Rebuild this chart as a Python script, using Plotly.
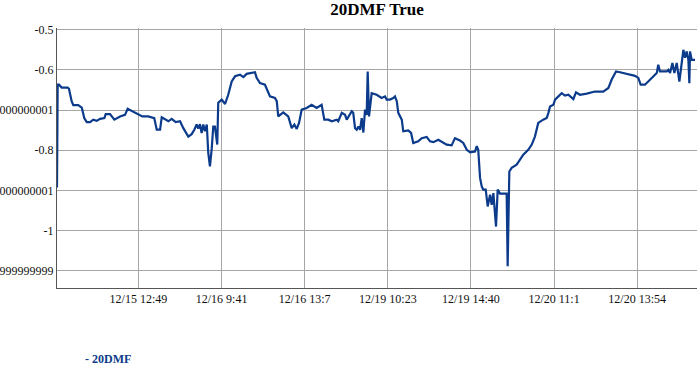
import plotly.graph_objects as go

# series position (sample index along the category axis) and 20DMF values
x_idx = [0, 0.4, 1.2, 2.8, 6.4, 7.2, 8.8, 9.8, 12.8, 14.9, 16.4, 17.9, 19.9, 21.8, 23.9, 25.9, 28.5, 29.3, 31.9, 34.5,
         37.9, 40.9, 42.5, 44.9, 47.9, 51.3, 54.9, 58.5, 60.0, 62.0, 63.0, 65.0, 67.0, 69.0, 71.4, 74.0, 76.0, 79.0, 81.0, 82.6,
         84.0, 85.0, 86.0, 87.0, 88.0, 89.0, 90.1, 91.0, 92.0, 93.1, 94.0, 95.0, 96.4, 97.0, 99.1, 101.1, 103.0, 105.1, 107.1, 110.1,
         112.1, 114.1, 117.1, 119.1, 120.1, 122.1, 125.1, 128.1, 131.1, 132.2, 133.1, 136.1, 139.1, 141.2, 142.8, 144.2, 145.6, 147.2, 150.2, 153.2,
         156.2, 159.2, 160.8, 163.2, 165.3, 168.3, 169.2, 171.3, 173.3, 174.3, 177.3, 178.2, 179.3, 180.3, 181.3, 182.3, 183.3, 184.3, 185.3, 186.3,
         186.9, 187.7, 189.3, 192.3, 195.3, 197.3, 198.3, 200.3, 202.3, 203.3, 204.4, 205.3, 207.4, 208.3, 211.3, 213.0, 214.3, 217.3, 219.4, 222.4,
         224.4, 226.4, 229.4, 231.4, 234.4, 237.4, 239.4, 242.4, 244.4, 246.5, 248.5, 251.5, 252.5, 253.4, 254.5, 255.5, 256.4, 257.9, 259.1, 260.5,
         261.5, 262.5, 263.5, 264.1, 265.1, 266.5, 270.5, 271.1, 272.1, 273.5, 276.5, 278.5, 280.5, 283.5, 285.6, 287.5, 289.5, 292.5, 294.6, 295.6,
         296.6, 298.6, 299.6, 303.6, 305.6, 307.6, 310.6, 312.2, 314.6, 318.7, 323.6, 328.6, 331.7, 333.7, 336.3, 338.7, 342.7, 347.7, 349.7, 351.1,
         353.7, 355.7, 358.7, 360.8, 361.7, 362.7, 366.8, 367.8, 368.8, 370.2, 371.4, 372.8, 374.4, 375.8, 376.8, 377.8, 378.8, 379.8, 380.4, 380.8,
         381.8, 383.8]
dmf = [-0.893, -0.637, -0.637, -0.644, -0.644, -0.647, -0.678, -0.688, -0.688, -0.694, -0.720, -0.730, -0.730, -0.724, -0.727, -0.722, -0.720, -0.710, -0.710, -0.724,
       -0.716, -0.712, -0.697, -0.702, -0.707, -0.716, -0.716, -0.720, -0.749, -0.749, -0.718, -0.724, -0.728, -0.722, -0.730, -0.728, -0.745, -0.766, -0.760, -0.749,
       -0.736, -0.746, -0.735, -0.757, -0.736, -0.753, -0.736, -0.807, -0.840, -0.795, -0.741, -0.741, -0.786, -0.682, -0.674, -0.685, -0.662, -0.629, -0.616, -0.612,
       -0.618, -0.610, -0.608, -0.606, -0.620, -0.633, -0.637, -0.666, -0.670, -0.678, -0.716, -0.706, -0.716, -0.745, -0.736, -0.747, -0.732, -0.699, -0.695, -0.687,
       -0.695, -0.687, -0.724, -0.724, -0.728, -0.724, -0.728, -0.707, -0.712, -0.724, -0.703, -0.707, -0.745, -0.749, -0.741, -0.749, -0.720, -0.756, -0.699, -0.712,
       -0.604, -0.716, -0.658, -0.662, -0.670, -0.666, -0.674, -0.674, -0.670, -0.666, -0.678, -0.707, -0.724, -0.753, -0.751, -0.757, -0.782, -0.778, -0.770, -0.767,
       -0.778, -0.780, -0.774, -0.778, -0.786, -0.788, -0.770, -0.776, -0.782, -0.799, -0.805, -0.803, -0.790, -0.799, -0.869, -0.890, -0.898, -0.898, -0.940, -0.911,
       -0.936, -0.907, -0.948, -0.990, -0.898, -0.908, -0.908, -1.089, -0.853, -0.844, -0.836, -0.824, -0.811, -0.799, -0.786, -0.766, -0.732, -0.724, -0.720, -0.707,
       -0.691, -0.687, -0.674, -0.658, -0.664, -0.662, -0.673, -0.656, -0.662, -0.659, -0.654, -0.654, -0.645, -0.624, -0.604, -0.606, -0.610, -0.615, -0.620, -0.637,
       -0.637, -0.629, -0.618, -0.608, -0.587, -0.604, -0.604, -0.600, -0.608, -0.583, -0.608, -0.583, -0.629, -0.587, -0.550, -0.570, -0.554, -0.575, -0.633, -0.554,
       -0.575, -0.575]

x_tick_pos = [49, 99, 149, 199, 249, 299, 349]
x_tick_labels = ["12/15 12:49", "12/16 9:41", "12/16 13:7", "12/19 10:23", "12/19 14:40", "12/20 11:1", "12/20 13:54"]
y_tick_vals = [-0.5, -0.6, -0.7, -0.8, -0.9, -1.0, -1.1]
y_tick_labels = ["-0.5", "-0.6", "-0.7000000001", "-0.8", "-0.9000000001", "-1", "-1.0999999999"]

series_name = "20DMF"
line_color = "#0c3b8c"
font_family = "Liberation Serif"

fig = go.Figure()
fig.add_trace(go.Scatter(x=x_idx, y=dmf, mode="lines", name=series_name,
                         line=dict(color=line_color, width=2.2), showlegend=False))

tick_font = dict(family=font_family, size=12, color="#111111")

fig.update_layout(
    width=700, height=370,
    margin=dict(l=57, r=3, t=28, b=82, autoexpand=False),
    paper_bgcolor="white", plot_bgcolor="white",
    font=dict(family=font_family, size=12, color="#222222"),
    title=dict(text="<b>20DMF True</b>", x=0.5, xref="paper", y=0.975, yref="container",
               yanchor="middle", automargin=False,
               font=dict(family=font_family, size=17, color="#000000")),
    xaxis=dict(range=[0, 385], tickmode="array", tickvals=x_tick_pos, ticktext=x_tick_labels,
               showgrid=True, gridcolor="#a6a6a6", gridwidth=1, zeroline=False,
               showline=True, linecolor="#555555", linewidth=1, ticks="",
               automargin=False, tickfont=tick_font),
    yaxis=dict(range=[-1.143, -0.4958], tickmode="array", tickvals=y_tick_vals, ticktext=y_tick_labels,
               showgrid=True, gridcolor="#a6a6a6", gridwidth=1, zeroline=False,
               showline=True, linecolor="#555555", linewidth=1, ticks="",
               automargin=False, tickfont=tick_font),
    annotations=[dict(text="<b>- " + series_name + "</b>", xref="paper", yref="paper",
                      x=0.0406, y=-0.272, xanchor="left", yanchor="middle", showarrow=False,
                      font=dict(family=font_family, size=12, color=line_color))],
)

fig.write_html("out.html", config={"displayModeBar": False},
               post_script="document.body.style.margin='0';document.body.style.overflow='hidden';")
